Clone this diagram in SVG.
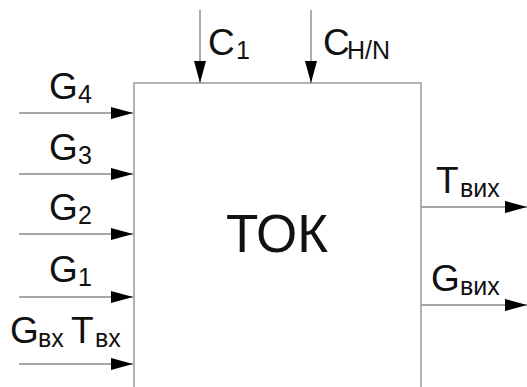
<svg xmlns="http://www.w3.org/2000/svg" width="527" height="387" viewBox="0 0 527 387">
<style>
.ln{stroke:#8a8a8a;stroke-width:1.4;fill:none}
.box{stroke:#a0a0a0;stroke-width:1.6;fill:#fff}
.t{font-family:"Liberation Sans",Arial,sans-serif;fill:#111;font-size:37px}
.s{font-size:25px}
.big{font-size:53px}
</style>
<defs>
<marker id="ah" markerUnits="userSpaceOnUse" markerWidth="24" markerHeight="14" refX="22" refY="7" orient="auto">
<path d="M0,1 L22,7 L0,13 z" fill="#000"/>
</marker>
</defs>
<g id="tok">
<rect class="box" x="134" y="83" width="287" height="330"/>
<text class="t big" x="226" y="252">ТОК</text>
</g>
<g id="connectors">
<line class="ln" x1="19" y1="113" x2="133" y2="113" marker-end="url(#ah)"/>
<line class="ln" x1="19" y1="174" x2="133" y2="174" marker-end="url(#ah)"/>
<line class="ln" x1="19" y1="234" x2="133" y2="234" marker-end="url(#ah)"/>
<line class="ln" x1="19" y1="297" x2="133" y2="297" marker-end="url(#ah)"/>
<line class="ln" x1="19" y1="364" x2="133" y2="364" marker-end="url(#ah)"/>
<line class="ln" x1="200" y1="10" x2="200" y2="83" marker-end="url(#ah)"/>
<line class="ln" x1="311" y1="10" x2="311" y2="83" marker-end="url(#ah)"/>
<line class="ln" x1="421" y1="207" x2="527" y2="207" marker-end="url(#ah)"/>
<line class="ln" x1="421" y1="305" x2="527" y2="305" marker-end="url(#ah)"/>
</g>
<g id="labels">
<text class="t" x="49" y="99">G<tspan class="s" x="78" y="103">4</tspan></text>
<text class="t" x="49" y="160">G<tspan class="s" x="78" y="164">3</tspan></text>
<text class="t" x="49" y="220">G<tspan class="s" x="78" y="224">2</tspan></text>
<text class="t" x="49" y="282">G<tspan class="s" x="78" y="286">1</tspan></text>
<text class="t" x="10" y="343">G<tspan class="s" x="38" y="347">вх</tspan><tspan x="71" y="343">T</tspan><tspan class="s" x="95" y="347">вх</tspan></text>
<text class="t" x="208" y="55">C<tspan class="s" x="236" y="59">1</tspan></text>
<text class="t" x="323" y="55">C<tspan class="s" x="347" y="59">H/N</tspan></text>
<text class="t" x="436" y="193">T<tspan class="s" x="460" y="197">вих</tspan></text>
<text class="t" x="431" y="291">G<tspan class="s" x="460" y="295">вих</tspan></text>
</g>
</svg>
